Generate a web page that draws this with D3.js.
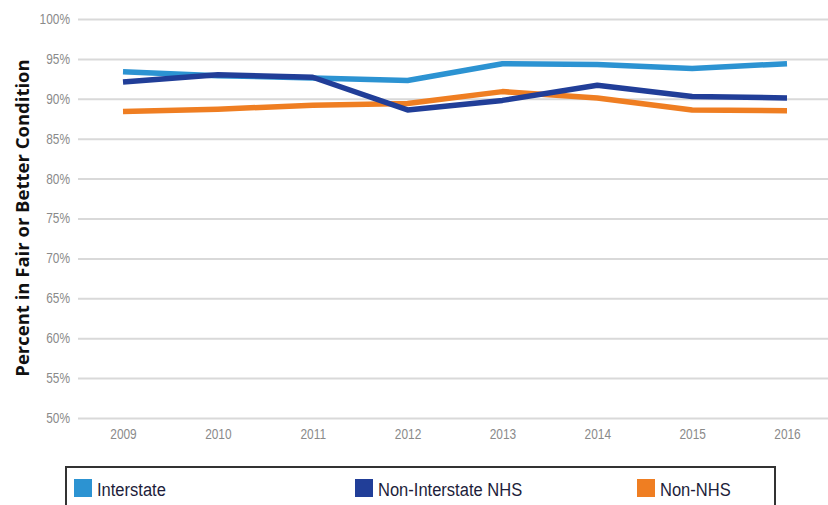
<!DOCTYPE html>
<html>
<head>
<meta charset="utf-8">
<script src="https://cdn.jsdelivr.net/npm/d3@7"></script>
<style>
  html, body { margin: 0; padding: 0; background: #fff; }
  svg { display: block; }
</style>
</head>
<body>
<svg id="chart" width="828" height="505"></svg>
<script>
// Pavement condition by road system, 2009–2016
const years = ["2009", "2010", "2011", "2012", "2013", "2014", "2015", "2016"];
const interstate = [93.4, 92.9, 92.6, 92.3, 94.4, 94.3, 93.8, 94.4];
const nonInterstateNHS = [92.1, 93.0, 92.7, 88.6, 89.8, 91.7, 90.3, 90.1];
const nonNHS = [88.4, 88.7, 89.2, 89.4, 90.9, 90.1, 88.6, 88.5];
const yTicks = [50, 55, 60, 65, 70, 75, 80, 85, 90, 95, 100];

const seriesNames = ["Interstate", "Non-Interstate NHS", "Non-NHS"];
const seriesColors = ["#2c93d2", "#213e98", "#ef7e22"];
const seriesValues = [interstate, nonInterstateNHS, nonNHS];

const svg = d3.select("#chart");
const labelFont = "'Liberation Sans', Arial, sans-serif";
const squeeze = 0.85; // horizontal condensing for the small labels

const x = d3.scalePoint().domain(years).range([123, 787]);
const y = d3.scaleLinear().domain([50, 100]).range([418, 19]);

// Horizontal gridlines with percent labels
const yAxis = d3.axisLeft(y)
  .tickValues(yTicks)
  .tickFormat(d => d + "%")
  .tickSize(-750)
  .tickPadding(8);

const gy = svg.append("g").attr("transform", "translate(78,0)").call(yAxis);
gy.select(".domain").remove();
gy.selectAll(".tick line").attr("stroke", "#d9d9d9").attr("stroke-width", 2);
gy.selectAll(".tick text")
  .attr("x", -8 / squeeze)
  .attr("transform", `scale(${squeeze},1)`)
  .attr("fill", "#8a8a8a")
  .style("font-family", labelFont)
  .style("font-size", "14px");

// Year labels below the chart
const xAxis = d3.axisBottom(x).tickSize(0).tickPadding(11);
const gx = svg.append("g").attr("transform", "translate(0,418)").call(xAxis);
gx.select(".domain").remove();
gx.selectAll(".tick text")
  .attr("transform", `scale(${squeeze},1)`)
  .attr("fill", "#8a8a8a")
  .style("font-family", labelFont)
  .style("font-size", "14px");

// Series lines: orange underneath, then light blue, dark blue on top
const line = d3.line()
  .x((d, i) => x(years[i]))
  .y(d => y(d));

[2, 0, 1].forEach(k => {
  svg.append("path")
    .datum(seriesValues[k])
    .attr("d", line)
    .attr("fill", "none")
    .attr("stroke", seriesColors[k])
    .attr("stroke-width", 5.5)
    .attr("stroke-linejoin", "round");
});

// Y-axis title
svg.append("text")
  .attr("transform", "translate(29,218) rotate(-90)")
  .attr("text-anchor", "middle")
  .attr("fill", "#111")
  .style("font-family", "'Open Sans', sans-serif")
  .style("font-weight", "700")
  .style("font-size", "18.5px")
  .text("Percent in Fair or Better Condition");

// Legend
const legend = svg.append("g");
legend.append("rect")
  .attr("x", 66).attr("y", 467)
  .attr("width", 709).attr("height", 60)
  .attr("fill", "#fff")
  .attr("stroke", "#333")
  .attr("stroke-width", 2);

const legendX = [74, 355, 637];
seriesNames.forEach((name, k) => {
  legend.append("rect")
    .attr("x", legendX[k]).attr("y", 479)
    .attr("width", 18).attr("height", 18)
    .attr("fill", seriesColors[k]);
  legend.append("text")
    .attr("transform", `translate(${legendX[k] + 23},496) scale(0.87,1)`)
    .attr("fill", "#1d1d3a")
    .style("font-family", labelFont)
    .style("font-size", "19px")
    .text(name);
});
</script>
</body>
</html>
